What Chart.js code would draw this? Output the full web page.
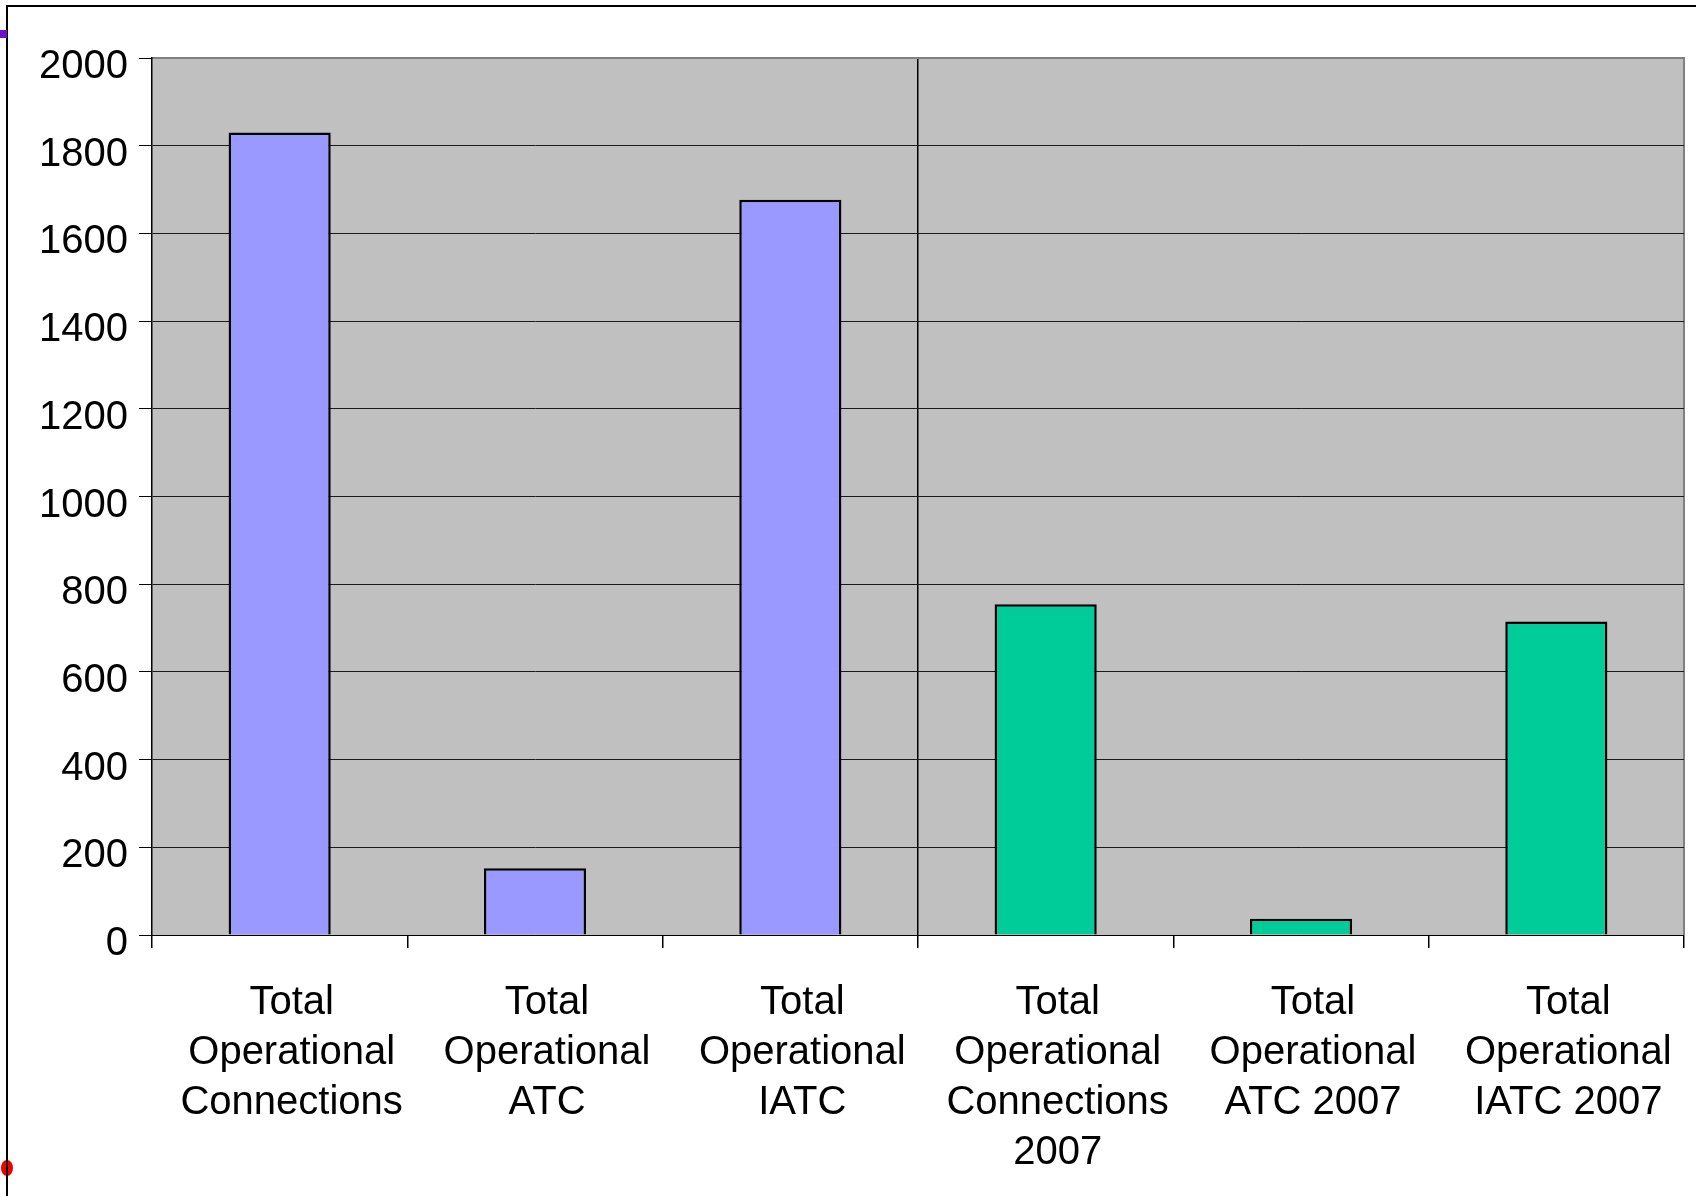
<!DOCTYPE html>
<html>
<head>
<meta charset="utf-8">
<script src="https://cdn.jsdelivr.net/npm/chart.js@4/dist/chart.umd.min.js"></script>
<style>
  html, body { margin: 0; padding: 0; background: #fff; }
  #wrap { position: relative; width: 1696px; height: 1196px; overflow: hidden; }
  #frame { position: absolute; left: 6px; top: 5px; width: 1720px; height: 1220px;
    border-left: 2px solid #000; border-top: 2px solid #000; }
  #mark { position: absolute; left: 0; top: 30px; width: 7px; height: 8px; background: #6a10c8; }
  #dot { position: absolute; left: 1px; top: 1160px; width: 12px; height: 16px; border-radius: 50%; background: #e00; }
  #chart { position: absolute; left: 0; top: 0; }
</style>
</head>
<body>
<div id="wrap">
  <div id="dot"></div>
  <div id="frame"></div>
  <div id="mark"></div>
  <canvas id="chart" width="1696" height="1196"></canvas>
</div>
<script>
  // Categories and values
  const categories = [
    ["Total", "Operational", "Connections"],
    ["Total", "Operational", "ATC"],
    ["Total", "Operational", "IATC"],
    ["Total", "Operational", "Connections", "2007"],
    ["Total", "Operational", "ATC 2007"],
    ["Total", "Operational", "IATC 2007"],
  ]
  const values = [1830, 152, 1677, 754, 37, 715]
  const barColors = ["#9999FF", "#9999FF", "#9999FF", "#00CC99", "#00CC99", "#00CC99"]
  const yTicks = [0, 200, 400, 600, 800, 1000, 1200, 1400, 1600, 1800, 2000]

  const font = "'Liberation Sans', Arial, sans-serif"

  // Grey plot background and border
  const plotBackground = {
    id: "plotBackground",
    beforeDraw(chart) {
      const { ctx, chartArea: a } = chart
      ctx.save()
      ctx.fillStyle = "#C0C0C0"
      ctx.fillRect(a.left, a.top, a.right - a.left, a.bottom - a.top)
      ctx.strokeStyle = "#808080"
      ctx.lineWidth = 2
      ctx.beginPath()
      ctx.moveTo(a.left, a.top)
      ctx.lineTo(a.right, a.top)
      ctx.lineTo(a.right, a.bottom)
      ctx.stroke()
      ctx.restore()
    },
  }

  new Chart(document.getElementById("chart"), {
    type: "bar",
    data: {
      labels: categories,
      datasets: [
        {
          data: values,
          backgroundColor: barColors,
          borderColor: "#000",
          borderWidth: 2.5,
          barPercentage: 0.4,
          categoryPercentage: 1,
        },
      ],
    },
    options: {
      responsive: false,
      animation: false,
      layout: { padding: { left: 10, top: 58, right: 12, bottom: 0 } },
      plugins: { legend: { display: false }, tooltip: { enabled: false } },
      scales: {
        x: {
          afterFit: (scale) => { scale.height = 261 },
          border: { color: "#000", width: 1 },
          grid: {
            offset: true,
            color: (c) => (c.index === 3 ? "#000" : "rgba(0,0,0,0)"),
            lineWidth: 1.5,
            tickColor: "#000",
            tickLength: 13,
          },
          ticks: {
            color: "#000",
            font: { family: font, size: 40, lineHeight: 1.25 },
            padding: 30,
            labelOffset: 12,
            maxRotation: 0,
            autoSkip: false,
          },
        },
        y: {
          min: 0,
          max: 2000,
          afterFit: (scale) => { scale.width = 142 },
          afterBuildTicks: (scale) => { scale.ticks = yTicks.map((v) => ({ value: v })) },
          border: { color: "#000", width: 1.5 },
          grid: {
            color: (c) => (c.tick && c.tick.value === 2000 ? "#808080" : "#1a1a1a"),
            lineWidth: 1,
            tickColor: "#000",
            tickLength: 13,
          },
          ticks: {
            color: "#000",
            font: { family: font, size: 40 },
            padding: 11,
            labelOffset: 9,
            callback: (value) => String(value),
          },
        },
      },
    },
    plugins: [plotBackground],
  })
</script>
</body>
</html>
